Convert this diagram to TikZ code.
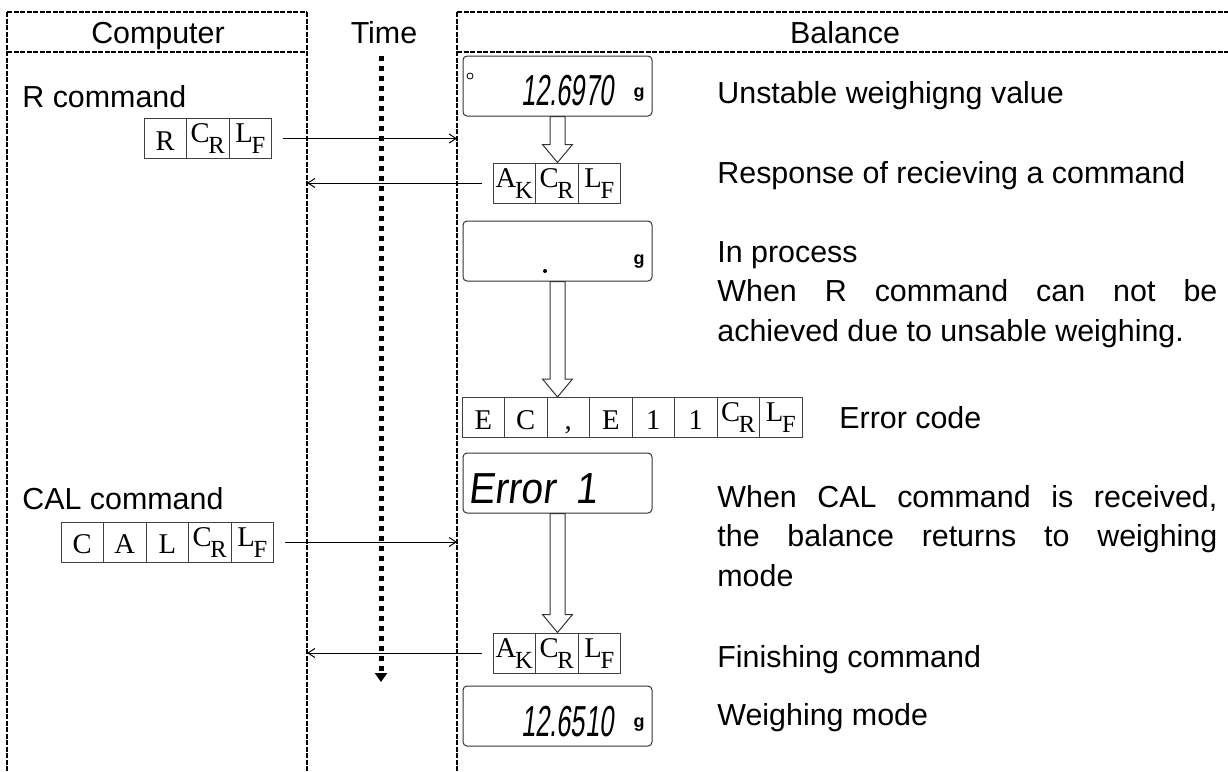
\documentclass[tikz,border=0pt]{standalone}
\usepackage{fontspec}
\setmainfont{Liberation Sans}
\newfontfamily\cellfont{Liberation Serif}
\newfontfamily\lcdfont[FakeSlant=0.12,FakeStretch=0.59]{Liberation Sans}
\newfontfamily\lcdwide[FakeSlant=0.12,FakeStretch=0.9]{Liberation Sans}
\usetikzlibrary{arrows.meta,positioning,calc}
\newcommand{\bodysize}{\fontsize{15.2}{19.75}\selectfont}
\newcommand{\CtlChar}[2]{\raisebox{3.75pt}{#1}\kern-0.6pt\raisebox{-1.75pt}{\fontsize{12.3}{12.3}\selectfont #2}}
\tikzset{
  frameline/.style={line width=0.6pt,dash pattern=on 2.5pt off 0.75pt},
  cell/.style={draw=black!75,line width=0.5pt,minimum width=21.25pt,minimum height=20pt,inner sep=0pt,text height=15.75pt,text depth=4.25pt,font=\cellfont\fontsize{14.3}{14.3}\selectfont},
  display/.style={draw=black!80,line width=0.5pt,rounded corners=2pt,minimum width=94.5pt,minimum height=30pt,inner sep=0pt},
  hollow/.style={draw=black!80,line width=0.5pt,fill=white},
  msg/.style={-{Straight Barb[length=3.5pt,width=4.5pt]},line width=0.5pt},
  timeline/.style={line width=2.5pt,dash pattern=on 2.5pt off 2.5pt,-{Triangle[length=4.5pt,width=6pt]}},
  colhead/.style={font=\bodysize,inner sep=0pt,anchor=base},
  desc/.style={font=\bodysize,inner sep=0pt,anchor=base west},
  note/.style={font=\bodysize,inner sep=0pt,anchor=north west,text width=250pt,align=justify},
  lcd/.style={font=\lcdfont\fontsize{21.7}{21.7}\selectfont,inner sep=0pt,anchor=base east},
  unitg/.style={font=\bfseries\fontsize{9}{9}\selectfont,inner sep=0pt}
}
\newcommand{\FlowArrow}[2]{%
  \draw[hollow] ($(#1.south)+(-7.5,0)$) -- ($(#1.south |- #2.north)+(-7.5,-18)$)
    -- ++(-7.5,0) -- (#1.south |- #2.north) -- ++(15,-18) -- ++(-7.5,0)
    -- ($(#1.south)+(7.5,0)$) -- cycle;%
}
\begin{document}
\begin{tikzpicture}[x=0.5pt,y=-0.5pt]
  \useasboundingbox (0,0) rectangle (1228,772);
  % columns
  \draw[frameline] (7,12) -- (307,12) (457,12) -- (1228,12);
  \draw[frameline] (7,52) -- (307,52) (457,52) -- (1228,52);
  \draw[frameline] (7,12) -- (7,772) (307,12) -- (307,772) (457,12) -- (457,772);
  \coordinate (compR) at (307,0);
  \coordinate (balL) at (457,0);
  \node[colhead] (hcomp) at (158,43) {Computer};
  \node[colhead] (htime) at (384,43) {Time};
  \node[colhead] (hbal) at (845,43) {Balance};

  % time axis
  \coordinate (t0) at (381,56);
  \coordinate (t1) at (381,682);
  \draw[timeline] (t0) -- (t1);

  % computer side
  \node[desc] (rcmd) at (22,107) {R command};
  \foreach \ch [count=\i] in {R,\CtlChar{C}{R},\CtlChar{L}{F}}
    \node[cell] (rq\i) at (122.75+42.5*\i,138.5) {\ch};
  \node[desc] (calcmd) at (22,509) {CAL command};
  \foreach \ch [count=\i] in {C,A,L,\CtlChar{C}{R},\CtlChar{L}{F}}
    \node[cell] (cal\i) at (39.75+42.5*\i,542) {\ch};

  % balance side
  \node[display] (disp1) at (557.5,86) {};
  \draw (470,76) circle[radius=3];
  \node[lcd] (val1) at (614,105) {12.6970};
  \node[unitg] (g1) at (639,95) {g};
  \foreach \ch [count=\i] in {\CtlChar{A}{K},\CtlChar{C}{R},\CtlChar{L}{F}}
    \node[cell] (ak\i) at (471.75+42.5*\i,183) {\ch};
  \node[display] (disp2) at (557.5,251) {};
  \fill (545,271) circle[radius=2];
  \node[unitg] (g2) at (639,262) {g};
  \foreach \ch [count=\i] in {E,C,{,},E,1,1,\CtlChar{C}{R},\CtlChar{L}{F}}
    \node[cell] (ec\i) at (440.75+42.5*\i,417.5) {\ch};
  \node[display] (disp3) at (557.5,483) {};
  \node[lcd,anchor=base west,font=\lcdwide\fontsize{21.7}{21.7}\selectfont] (err) at (468,503) {Error\hspace{10pt}1};
  \foreach \ch [count=\i] in {\CtlChar{A}{K},\CtlChar{C}{R},\CtlChar{L}{F}}
    \node[cell] (fin\i) at (471.75+42.5*\i,653) {\ch};
  \node[display] (disp4) at (557.5,716) {};
  \node[lcd] (val2) at (614,736) {12.6510};
  \node[unitg] (g4) at (639,725) {g};

  % flow inside the balance
  \FlowArrow{disp1}{ak2}
  \FlowArrow{disp2}{ec3}
  \FlowArrow{disp3}{fin2}

  % messages
  \draw[msg] ([xshift=5.5pt]rq3.east) -- (rq3.east -| balL);
  \draw[msg] ([xshift=-5.5pt]ak1.west) -- (ak1.west -| compR);
  \draw[msg] ([xshift=5.5pt]cal5.east) -- (cal5.east -| balL);
  \draw[msg] ([xshift=-5.5pt]fin1.west) -- (fin1.west -| compR);

  % notes
  \node[desc] (n1) at (717,103) {Unstable weighigng value};
  \node[desc] (n2) at (717,183) {Response of recieving a command};
  \node[note] (n3) at (717,241) {In process\\When R command can not be\linebreak achieved due to unsable weighing.};
  \node[desc] (n4) at (839,428) {Error code};
  \node[note] (n5) at (717,485) {When CAL command is received,\linebreak the balance returns to weighing\linebreak mode};
  \node[desc] (n6) at (717,667) {Finishing command};
  \node[desc] (n7) at (717,725) {Weighing mode};
\end{tikzpicture}
\end{document}
